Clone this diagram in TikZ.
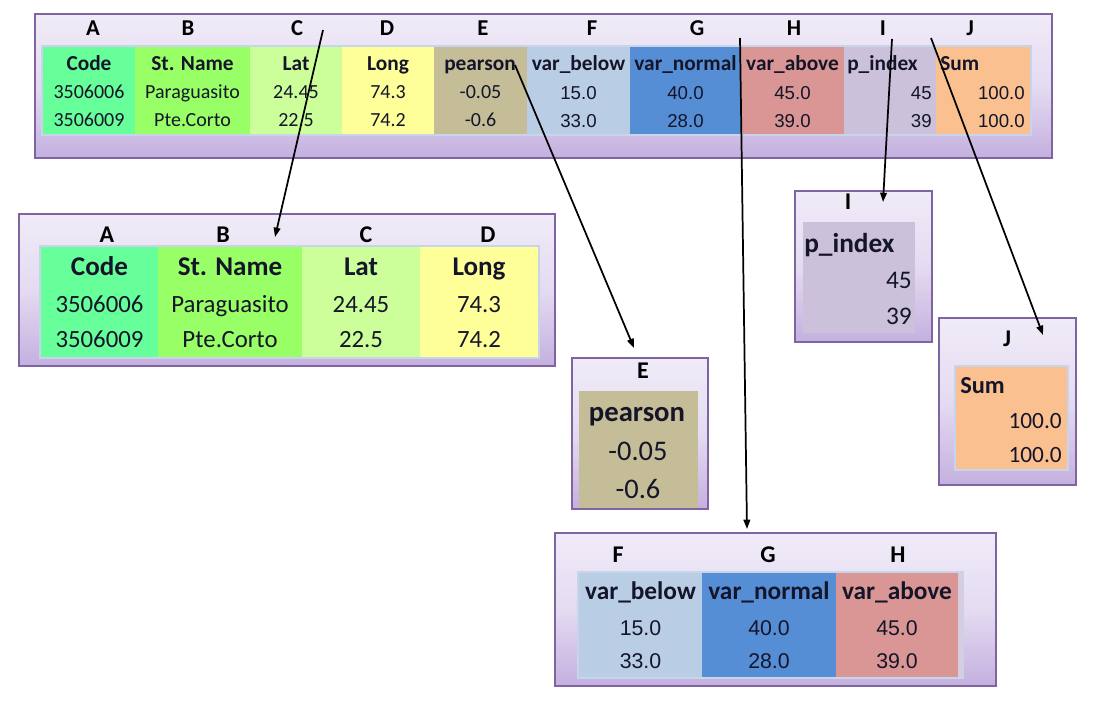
\documentclass[tikz,border=0pt]{standalone}
\usepackage{fontspec}
\setmainfont{Carlito}
\newfontfamily\arialf{Liberation Sans}
\usetikzlibrary{fit,shadows,arrows.meta}
\definecolor{cCode}{HTML}{66FF99}
\definecolor{cName}{HTML}{99FF66}
\definecolor{cLat}{HTML}{CCFF99}
\definecolor{cLong}{HTML}{FFFF99}
\definecolor{cPear}{HTML}{C4BD97}
\definecolor{cBelow}{HTML}{B9CDE5}
\definecolor{cNormal}{HTML}{558ED5}
\definecolor{cAbove}{HTML}{D99694}
\definecolor{cPidx}{HTML}{CCC1DA}
\definecolor{cSum}{HTML}{FAC090}
\definecolor{boxTop}{HTML}{F0EBF8}
\definecolor{boxMid}{HTML}{E4DBF1}
\definecolor{boxBot}{HTML}{C4B0DF}
\definecolor{boxLine}{HTML}{8064A2}
\definecolor{tblLine}{HTML}{C8D4EA}
\definecolor{txt}{HTML}{15152A}
\begin{document}
\begin{tikzpicture}[x=0.75pt,y=-0.75pt,
  panel/.style={draw=boxLine, line width=0.9pt, inner sep=0pt,
    top color=boxTop, bottom color=boxBot, middle color=boxMid,
    drop shadow={opacity=0.25, shadow xshift=1pt, shadow yshift=-1pt}},
  tframe/.style={draw=tblLine, line width=0.8pt, inner sep=0pt},
  cell/.style={inner sep=0pt, draw=none},
  tx/.style={anchor=base, inner sep=0pt, text=txt},
  txw/.style={anchor=base west, inner sep=0pt, text=txt},
  txe/.style={anchor=base east, inner sep=0pt, text=txt},
  ftop/.style={font=\fontsize{15}{18}\selectfont},
  ftopb/.style={font=\fontsize{16}{19}\selectfont\bfseries},
  ftopa/.style={font=\fontsize{14}{17}\selectfont\arialf},
  fbl/.style={font=\fontsize{18.6}{22}\selectfont},
  fblb/.style={font=\fontsize{20.3}{24}\selectfont\bfseries},
  fe/.style={font=\fontsize{21.3}{25}\selectfont},
  feb/.style={font=\fontsize{21.5}{25}\selectfont\bfseries},
  fi/.style={font=\fontsize{19}{23}\selectfont},
  fib/.style={font=\fontsize{20.5}{24}\selectfont\bfseries},
  fj/.style={font=\fontsize{17.5}{21}\selectfont},
  fjb/.style={font=\fontsize{18.3}{22}\selectfont\bfseries},
  fgb/.style={font=\fontsize{19}{23}\selectfont\bfseries},
  fga/.style={font=\fontsize{16}{19}\selectfont\arialf},
  let/.style={anchor=base, inner sep=0pt, text=black, font=\fontsize{17}{20}\selectfont\bfseries},
  letb/.style={anchor=base, inner sep=0pt, text=black, font=\fontsize{18}{21}\selectfont\bfseries},
  arr/.style={draw=black, line width=1.3pt, -{Triangle[length=7pt,width=5pt]}}
]
\useasboundingbox (0,0) rectangle (1094,704);

% ================= top panel =================
\node[panel, fit={(35,14) (1052,158)}] (top) {};
\node[tframe, fit={(42,46) (1031,135)}] (ttab) {};
\node[cell, fill=cCode,   fit={(43,47) (135,134)}] (tA) {};
\node[cell, fill=cName,   fit={(135,47) (250,134)}] (tB) {};
\node[cell, fill=cLat,    fit={(250,47) (342,134)}] (tC) {};
\node[cell, fill=cLong,   fit={(342,47) (434,134)}] (tD) {};
\node[cell, fill=cPear,   fit={(434,47) (527,134)}] (tE) {};
\node[cell, fill=cBelow,  fit={(527,47) (630,134)}] (tF) {};
\node[cell, fill=cNormal, fit={(630,47) (741,134)}] (tG) {};
\node[cell, fill=cAbove,  fit={(741,47) (844,134)}] (tH) {};
\node[cell, fill=cPidx,   fit={(844,47) (936,134)}] (tI) {};
\node[cell, fill=cSum,    fit={(936,47) (1030,134)}] (tJ) {};

\node[let] (tlA) at (93,35) {A};
\node[let] (tlB) at (188,35) {B};
\node[let] (tlC) at (297,35) {C};
\node[let] (tlD) at (387,35) {D};
\node[let] (tlE) at (483,35) {E};
\node[let] (tlF) at (592,35) {F};
\node[let] (tlG) at (697,35) {G};
\node[let] (tlH) at (794,35) {H};
\node[let] (tlI) at (883,35) {I};
\node[let] (tlJ) at (970,35) {J};

\node[tx, ftopb] (th1) at (89,70) {Code};
\node[tx, ftopb] (th2) at (192.5,70) {St. Name};
\node[tx, ftopb] (th3) at (296,70) {Lat};
\node[tx, ftopb] (th4) at (388,70) {Long};
\node[tx, ftopb] (th5) at (480,70) {pearson};
\node[tx, ftopb] (th6) at (578.5,70) {var\_below};
\node[tx, ftopb] (th7) at (685.5,70) {var\_normal};
\node[tx, ftopb] (th8) at (792.5,70) {var\_above};
\node[txw, ftopb] (th9) at (847,70) {p\_index};
\node[txw, ftopb] (th10) at (940,70) {Sum};

\node[tx, ftop] (tr11) at (89,98) {3506006};
\node[tx, ftop] (tr12) at (192.5,98) {Paraguasito};
\node[tx, ftop] (tr13) at (296,98) {24.45};
\node[tx, ftop] (tr14) at (388,98) {74.3};
\node[tx, ftop] (tr15) at (480.5,98) {-0.05};
\node[tx, ftopa] (tr16) at (578.5,99) {15.0};
\node[tx, ftopa] (tr17) at (685.5,99) {40.0};
\node[tx, ftopa] (tr18) at (792.5,99) {45.0};
\node[txe, ftopa] (tr19) at (932,99) {45};
\node[txe, ftopa] (tr110) at (1025,99) {100.0};

\node[tx, ftop] (tr21) at (89,126) {3506009};
\node[tx, ftop] (tr22) at (192.5,126) {Pte.Corto};
\node[tx, ftop] (tr23) at (296,126) {22.5};
\node[tx, ftop] (tr24) at (388,126) {74.2};
\node[tx, ftop] (tr25) at (480.5,126) {-0.6};
\node[tx, ftopa] (tr26) at (578.5,127) {33.0};
\node[tx, ftopa] (tr27) at (685.5,127) {28.0};
\node[tx, ftopa] (tr28) at (792.5,127) {39.0};
\node[txe, ftopa] (tr29) at (932,127) {39};
\node[txe, ftopa] (tr210) at (1025,127) {100.0};

% ================= A-D panel =================
\node[panel, fit={(19,214) (555,366)}] (bl) {};
\node[tframe, fit={(40,246) (539,358)}] (bltab) {};
\node[cell, fill=cCode, fit={(41,247) (158,357)}] (bA) {};
\node[cell, fill=cName, fit={(158,247) (302,357)}] (bB) {};
\node[cell, fill=cLat,  fit={(302,247) (420,357)}] (bC) {};
\node[cell, fill=cLong, fit={(420,247) (538,357)}] (bD) {};
\node[letb] (blA) at (107,242) {A};
\node[letb] (blB) at (223,242) {B};
\node[letb] (blC) at (366,242) {C};
\node[letb] (blD) at (488,242) {D};
\node[tx, fblb] (bh1) at (99.5,275) {Code};
\node[tx, fblb] (bh2) at (230,275) {St. Name};
\node[tx, fblb] (bh3) at (361,275) {Lat};
\node[tx, fblb] (bh4) at (479,275) {Long};
\node[tx, fbl] (br11) at (99.5,312) {3506006};
\node[tx, fbl] (br12) at (230,312) {Paraguasito};
\node[tx, fbl] (br13) at (361,312) {24.45};
\node[tx, fbl] (br14) at (479,312) {74.3};
\node[tx, fbl] (br21) at (99.5,347) {3506009};
\node[tx, fbl] (br22) at (230,347) {Pte.Corto};
\node[tx, fbl] (br23) at (361,347) {22.5};
\node[tx, fbl] (br24) at (479,347) {74.2};

% ================= E panel =================
\node[panel, fit={(572,358) (708,509)}] (pe) {};
\node[cell, fill=cPear, fit={(579,391) (698,508)}] (eE) {};
\node[letb] (elE) at (643,378) {E};
\node[tx, feb] (eh) at (637,421) {pearson};
\node[tx, fe] (er1) at (638,460) {-0.05};
\node[tx, fe] (er2) at (638,498) {-0.6};

% ================= I panel =================
\node[panel, fit={(795,191) (932,342)}] (pi) {};
\node[cell, fill=cPidx, fit={(803,222) (915,333)}] (iI) {};
\node[letb] (ilI) at (848,209) {I};
\node[txw, fib] (ih) at (804,252) {p\_index};
\node[txe, fi] (ir1) at (912,288) {45};
\node[txe, fi] (ir2) at (912,324) {39};

% ================= J panel =================
\node[panel, fit={(939,318) (1076,485)}] (pj) {};
\node[tframe, fit={(955,366) (1068,470)}] (jtab) {};
\node[cell, fill=cSum, fit={(956,367) (1067,469)}] (jJ) {};
\node[letb] (jlJ) at (1007,346) {J};
\node[txw, fjb] (jh) at (960,393) {Sum};
\node[txe, fj] (jr1) at (1062,428) {100.0};
\node[txe, fj] (jr2) at (1062,462) {100.0};

% ================= F-H panel =================
\node[panel, fit={(555,533) (996,686)}] (pf) {};
\node[tframe, fit={(578,572) (963,678)}] (ftab) {};
\node[cell, fill=cBelow,  fit={(579,573) (702,677)}] (fF) {};
\node[cell, fill=cNormal, fit={(702,573) (836,677)}] (fG) {};
\node[cell, fill=cAbove,  fit={(836,573) (958,677)}] (fH) {};
\node[cell, fill=cPidx!80!white, fit={(958,573) (963,677)}] (fX) {};
\node[letb] (flF) at (618,562) {F};
\node[letb] (flG) at (768,562) {G};
\node[letb] (flH) at (898,562) {H};
\node[tx, fgb] (fh1) at (640.5,599) {var\_below};
\node[tx, fgb] (fh2) at (769,599) {var\_normal};
\node[tx, fgb] (fh3) at (897,599) {var\_above};
\node[tx, fga] (fr11) at (640.5,635) {15.0};
\node[tx, fga] (fr12) at (769,635) {40.0};
\node[tx, fga] (fr13) at (897,635) {45.0};
\node[tx, fga] (fr21) at (640.5,668) {33.0};
\node[tx, fga] (fr22) at (769,668) {28.0};
\node[tx, fga] (fr23) at (897,668) {39.0};

% ================= connectors =================
\coordinate (sC) at (323,30);
\coordinate (eC) at (275,237);
\coordinate (sE) at (515,65);
\coordinate (eEE) at (634,348);
\coordinate (sG) at (740,38);
\coordinate (eG) at (747,529);
\coordinate (sI) at (892,39);
\coordinate (eI) at (883,202);
\coordinate (sJ) at (931,38);
\coordinate (eJ) at (1043,335);
\draw[arr] (sC) -- (eC);
\draw[arr] (sE) -- (eEE);
\draw[arr] (sG) -- (eG);
\draw[arr] (sI) -- (eI);
\draw[arr] (sJ) -- (eJ);
\end{tikzpicture}
\end{document}
